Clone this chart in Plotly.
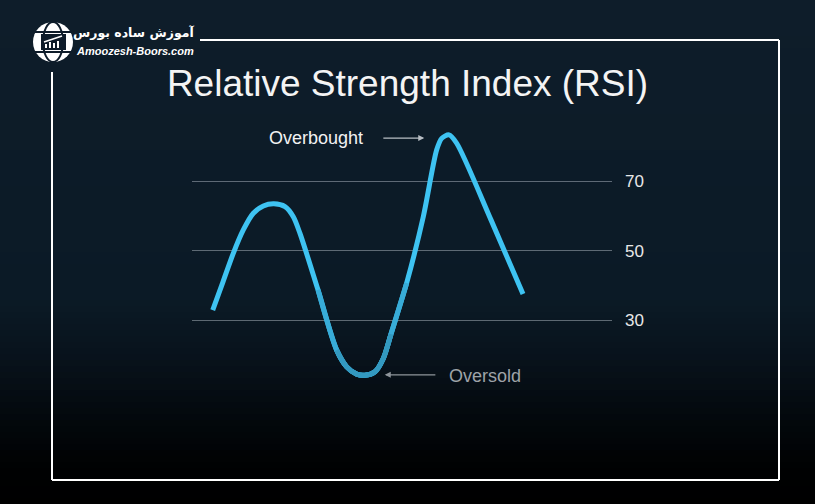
import plotly.graph_objects as go

# ---- data ----
rsi_x = [4.93, 7.38, 9.83, 12.21, 14.60, 16.98, 19.52, 22.14, 24.12, 25.71, 30.00,
         34.45, 36.83, 39.21, 41.19, 43.57, 45.55, 47.38, 51.12, 55.07,
         58.26, 59.45, 61.19, 63.02, 71.19, 78.81]
rsi_y = [33.0, 41.1, 49.3, 56.0, 60.8, 62.9, 63.5, 62.7, 59.8, 55.0, 38.8,
         21.5, 16.7, 14.6, 14.3, 15.3, 19.1, 26.1, 40.8, 59.8,
         79.0, 82.3, 83.3, 80.9, 58.9, 37.6]
levels = [30, 50, 70]
level_labels = ["30", "50", "70"]
title_text = "Relative Strength Index (RSI)"
overbought_label = "Overbought"
oversold_label = "Oversold"
brand_fa = "آموزش ساده بورس"
brand_en = "Amoozesh-Boors.com"

# ---- layout geometry (pixels) ----
FW, FH = 815, 504
L, T, W, H = 192, 100, 420, 320


def PX(px):
    return (px - L) / W


def PY(py):
    return (T + H - py) / H


fig = go.Figure()

spl = dict(width=5, shape="spline", smoothing=0.8)
fig.add_trace(go.Scatter(x=rsi_x, y=rsi_y, mode="lines", line=dict(color="#3ec3f2", **spl),
                         hoverinfo="skip", showlegend=False))
# darker tint towards the trough
fig.add_trace(go.Scatter(x=rsi_x[10:19], y=rsi_y[10:19], mode="lines",
                         line=dict(color="#38acd8", **spl), hoverinfo="skip", showlegend=False))
fig.add_trace(go.Scatter(x=rsi_x[11:18], y=rsi_y[11:18], mode="lines",
                         line=dict(color="#3399c0", **spl), hoverinfo="skip", showlegend=False))

shapes = []

# background vertical gradient
stops = [(0, (14, 29, 42)), (300, (11, 26, 38)), (360, (8, 18, 27)),
         (420, (3, 8, 12)), (470, (0, 1, 2)), (504, (0, 0, 0))]


def grad(py):
    for (a, ca), (b, cb) in zip(stops[:-1], stops[1:]):
        if a <= py <= b:
            t = (py - a) / (b - a)
            return tuple(round(ca[i] + (cb[i] - ca[i]) * t) for i in range(3))
    return stops[-1][1]


step = 6
for y0 in range(0, FH, step):
    c = grad(y0 + step / 2)
    shapes.append(dict(type="rect", xref="paper", yref="paper", layer="below",
                       x0=PX(0), x1=PX(FW), y0=PY(y0 + step + 0.5), y1=PY(y0),
                       fillcolor="rgb(%d,%d,%d)" % c, line=dict(width=0)))

# white frame
frame = dict(color="#ffffff", width=2)
shapes += [
    dict(type="line", xref="paper", yref="paper", x0=PX(200), x1=PX(779), y0=PY(40), y1=PY(40), line=frame),
    dict(type="line", xref="paper", yref="paper", x0=PX(779), x1=PX(779), y0=PY(40), y1=PY(480), line=frame),
    dict(type="line", xref="paper", yref="paper", x0=PX(52), x1=PX(779), y0=PY(480), y1=PY(480), line=frame),
    dict(type="line", xref="paper", yref="paper", x0=PX(52), x1=PX(52), y0=PY(72), y1=PY(480), line=frame),
]

# logo globe
dark = "#0e1c2a"
shapes += [
    dict(type="circle", xref="paper", yref="paper", x0=PX(33), x1=PX(73), y0=PY(62), y1=PY(22),
         fillcolor="#ffffff", line=dict(width=0)),
    dict(type="circle", xref="paper", yref="paper", x0=PX(43), x1=PX(63), y0=PY(62), y1=PY(22),
         fillcolor="rgba(0,0,0,0)", line=dict(color=dark, width=2)),
    dict(type="line", xref="paper", yref="paper", x0=PX(35), x1=PX(71), y0=PY(32), y1=PY(32),
         line=dict(color=dark, width=2)),
    dict(type="line", xref="paper", yref="paper", x0=PX(35), x1=PX(71), y0=PY(52), y1=PY(52),
         line=dict(color=dark, width=2)),
    dict(type="rect", xref="paper", yref="paper", x0=PX(41), x1=PX(66), y0=PY(50), y1=PY(34),
         fillcolor=dark, line=dict(width=0)),
    dict(type="rect", xref="paper", yref="paper", x0=PX(45), x1=PX(47), y0=PY(48), y1=PY(44),
         fillcolor="#ffffff", line=dict(width=0)),
    dict(type="rect", xref="paper", yref="paper", x0=PX(49), x1=PX(51), y0=PY(48), y1=PY(42),
         fillcolor="#ffffff", line=dict(width=0)),
    dict(type="rect", xref="paper", yref="paper", x0=PX(53), x1=PX(55), y0=PY(48), y1=PY(43),
         fillcolor="#ffffff", line=dict(width=0)),
    dict(type="rect", xref="paper", yref="paper", x0=PX(57), x1=PX(59), y0=PY(48), y1=PY(41),
         fillcolor="#ffffff", line=dict(width=0)),
    dict(type="line", xref="paper", yref="paper", x0=PX(44), x1=PX(62), y0=PY(42), y1=PY(36),
         line=dict(color="#ffffff", width=1.5)),
]

annotations = [
    dict(xref="paper", yref="paper", x=PX(196), y=PY(33), xanchor="right", yanchor="middle",
         text="<b>%s</b>" % brand_fa, showarrow=False,
         font=dict(family="DejaVu Sans", size=12.5, color="#ffffff")),
    dict(xref="paper", yref="paper", x=PX(196), y=PY(51), xanchor="right", yanchor="middle",
         text="<b><i>%s</i></b>" % brand_en, showarrow=False,
         font=dict(family="Liberation Sans", size=11, color="#ffffff")),
    # labels
    dict(x=29.6, y=82.4, xref="x", yref="y", text=overbought_label, showarrow=False,
         xanchor="center", yanchor="middle",
         font=dict(family="Liberation Sans", size=18, color="#f2f2f2")),
    dict(x=69.8, y=14.2, xref="x", yref="y", text=oversold_label, showarrow=False,
         xanchor="center", yanchor="middle",
         font=dict(family="Liberation Sans", size=18, color="#9ea3a8")),
    # arrows
    dict(x=55.3, y=82.4, xref="x", yref="y", ax=45.2, ay=82.4, axref="x", ayref="y",
         text="", showarrow=True, arrowhead=2, arrowsize=1, arrowwidth=1.2, arrowcolor="#b8bec4"),
    dict(x=45.9, y=14.4, xref="x", yref="y", ax=58.3, ay=14.4, axref="x", ayref="y",
         text="", showarrow=True, arrowhead=2, arrowsize=1, arrowwidth=1.2, arrowcolor="#8e949a"),
]

fig.update_layout(
    width=FW, height=FH, autosize=False,
    margin=dict(l=L, r=FW - L - W, t=T, b=FH - T - H),
    paper_bgcolor="#000000", plot_bgcolor="rgba(0,0,0,0)",
    showlegend=False,
    title=dict(text=title_text, x=0.5, xanchor="center", xref="container",
               y=1 - 83 / FH, yanchor="middle", yref="container",
               font=dict(family="Liberation Sans", size=37, color="#f4f4f4")),
    xaxis=dict(range=[0, 100], visible=False, fixedrange=True),
    yaxis=dict(range=[1.43, 93.32], tickvals=levels, ticktext=level_labels, side="right",
               showgrid=True, gridcolor="rgba(150,160,170,0.6)", gridwidth=1,
               zeroline=False, showline=False, ticks="", ticklabelstandoff=12,
               tickfont=dict(family="Liberation Sans", size=17, color="#e8e8e8"),
               fixedrange=True),
    shapes=shapes,
    annotations=annotations,
)

fig.write_html("out.html", config={"displayModeBar": False},
               post_script="document.body.style.margin='0';document.body.style.overflow='hidden';"
                           "document.body.style.background='#000';")
